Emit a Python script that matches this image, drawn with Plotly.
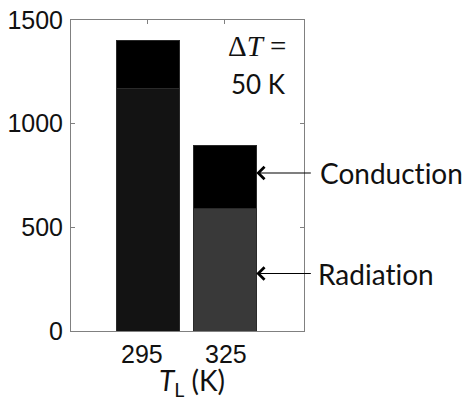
import plotly.graph_objects as go

# ---- data ----
temps = ["295", "325"]          # T_L (K)
radiation = [1172, 590]         # lower segment
conduction = [228, 307]         # upper segment
y_ticks = [0, 500, 1000, 1500]
delta_t_text = "50 K"
cond_label = "Conduct\u200cion"
rad_label = "Radiat\u200cion"

# ---- style ----
rad_colors = ["#131313", "#393939"]
cond_color = "#000000"
edge = "#2a2a2a"
axis_grey = "#808080"
tick_font = dict(family="Liberation Sans, Arial, sans-serif", size=25, color="#111111")
text_font = dict(family="Lato, Noto Sans, sans-serif", size=28, color="#111111")
label_shifts = [-6, 1]   # horizontal nudge of the category labels (px)

x = list(range(len(temps)))

fig = go.Figure()
fig.add_bar(x=x, y=radiation, name="Radiation", width=0.82,
            marker=dict(color=rad_colors, line=dict(color=edge, width=1)))
fig.add_bar(x=x, y=conduction, name="Conduction", width=0.82,
            marker=dict(color=cond_color, line=dict(color=edge, width=1)))

bar_right = x[1] + 0.41
cond_y = radiation[1] + conduction[1] * 0.56
rad_y = radiation[1] * 0.47

arrow_style = dict(showarrow=True, arrowhead=4, arrowsize=2.2, arrowwidth=1.1,
                   arrowcolor="#000000", ax=56, ay=0, text="")

annotations = [
    dict(xref="paper", yref="paper", x=0.932, y=0.915, xanchor="right", yanchor="middle",
         text="Δ<i>T</i> =", showarrow=False,
         font=dict(family="Liberation Serif, DejaVu Serif, serif", size=29, color="#111111")),
    dict(xref="paper", yref="paper", x=0.932, y=0.795, xanchor="right", yanchor="middle",
         text=delta_t_text, showarrow=False,
         font=dict(family="Lato, Noto Sans, sans-serif", size=26, color="#111111")),
    dict(xref="x", yref="y", x=bar_right, y=cond_y, **arrow_style),
    dict(xref="x", yref="y", x=bar_right, y=rad_y, **arrow_style),
    dict(xref="x", yref="y", x=bar_right, y=cond_y, xshift=62, xanchor="left", yanchor="middle",
         text=cond_label, showarrow=False, font=text_font),
    dict(xref="x", yref="y", x=bar_right, y=rad_y, xshift=60, xanchor="left", yanchor="middle",
         text=rad_label, showarrow=False, font=text_font),
    # x-axis title
    dict(xref="paper", yref="paper", x=0.52, y=-0.163, xanchor="center", yanchor="middle",
         text="<i>T</i><sub>L</sub> (K)", showarrow=False, font=text_font),
]
# category labels under the bars
for xi, lab, sh in zip(x, temps, label_shifts):
    annotations.append(dict(xref="x", yref="paper", x=xi, y=-0.074, xshift=sh,
                            xanchor="center", yanchor="middle", text=lab,
                            showarrow=False, font=tick_font))

# page body adds an 8 px offset; figure is sized/margined to compensate
fig.update_layout(
    width=462, height=393,
    margin=dict(l=63, r=166, t=12, b=70),
    barmode="stack",
    showlegend=False,
    plot_bgcolor="white",
    paper_bgcolor="white",
    annotations=annotations,
)

fig.update_xaxes(
    range=[-1, 2.03], tickvals=x, showticklabels=False,
    ticks="inside", ticklen=4, tickcolor=axis_grey,
    showline=True, linecolor=axis_grey, linewidth=1, mirror="ticks",
    showgrid=False, zeroline=False, layer="below traces", automargin=False,
)
fig.update_yaxes(
    range=[0, 1500], tickvals=y_ticks,
    ticks="inside", ticklen=4, tickcolor=axis_grey,
    showline=True, linecolor=axis_grey, linewidth=1, mirror="ticks",
    showgrid=False, zeroline=False, ticklabeloverflow="allow",
    tickfont=tick_font, ticklabelstandoff=2, automargin=False,
)

fig.write_html("out.html")
